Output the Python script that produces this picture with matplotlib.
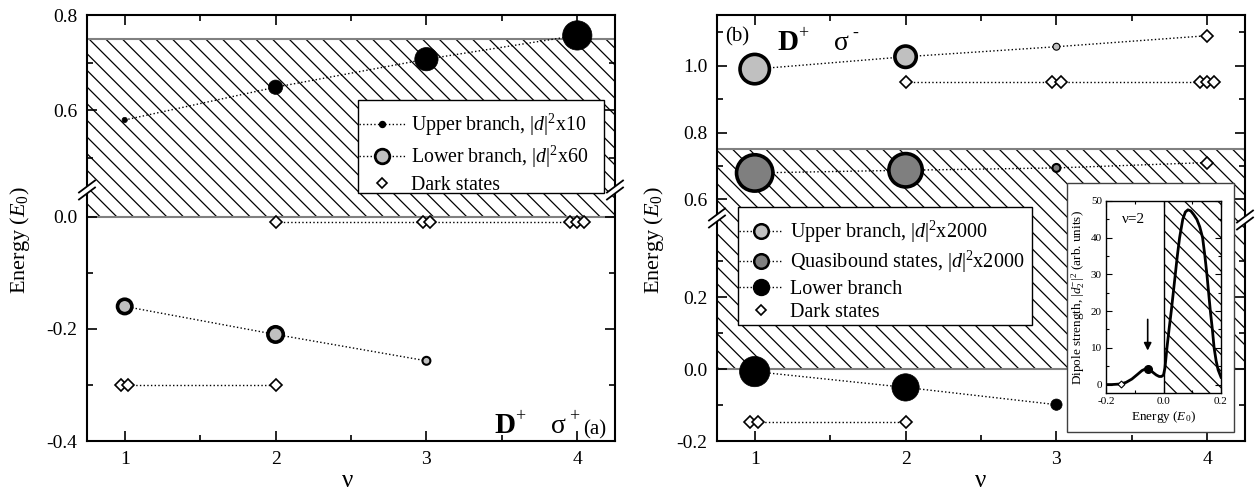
import matplotlib.pyplot as plt
from matplotlib.lines import Line2D
from matplotlib.patches import Rectangle, Polygon
from matplotlib.ticker import MultipleLocator, FixedLocator, FormatStrFormatter

plt.rcParams['font.family'] = 'Liberation Serif'
plt.rcParams['mathtext.fontset'] = 'custom'
plt.rcParams['mathtext.rm'] = 'Liberation Serif'
plt.rcParams['mathtext.it'] = 'Liberation Serif:italic'
plt.rcParams['mathtext.bf'] = 'Liberation Serif:bold'
plt.rcParams['axes.unicode_minus'] = False
plt.rcParams['hatch.linewidth'] = 0.9

##data

nu = [1, 2, 3, 4]
# (a) D+ sigma+ ; sizes = marker diameter (dipole strength scaled)
a_upper_E = [0.579, 0.648, 0.707, 0.757]
a_upper_size = [6, 15, 24, 30]
a_lower_nu = [1, 2, 3]
a_lower_E = [-0.160, -0.210, -0.257]
a_lower_size = [18, 19, 10]
a_dark1_nu = [2, 2.975, 3.025, 3.955, 4.0, 4.045]
a_dark1_E = [-0.010] * 6
a_dark2_nu = [0.975, 1.025, 2.0]
a_dark2_E = [-0.300] * 3

# (b) D+ sigma- ; size 0 = dark state (diamond)
b_upper_E = [0.990, 1.027, 1.057, 1.090]
b_upper_size = [33, 25, 8, 0]
b_quasi_E = [0.679, 0.687, 0.694, 0.710]
b_quasi_size = [40, 37, 10, 0]
b_lower_nu = [1, 2, 3]
b_lower_E = [-0.007, -0.051, -0.099]
b_lower_size = [31, 28, 12]
b_dark1_nu = [2, 2.97, 3.03, 3.955, 4.0, 4.045]
b_dark1_E = [0.952] * 6
b_dark2_nu = [0.97, 1.02, 2.0]
b_dark2_E = [-0.146] * 3

band = (0.0, 0.75)

# y ticks of each axis segment
a_top_ticks = ([0.6, 0.8], [0.5, 0.7])
a_bot_ticks = ([-0.4, -0.2, 0.0], [-0.3, -0.1])
b_top_ticks = ([0.6, 0.8, 1.0], [0.7, 0.9, 1.1])
b_bot_ticks = ([-0.2, 0.0, 0.2], [-0.1, 0.1, 0.3])

# inset: nu=2 dipole strength vs energy
ins_E = [-0.2, -0.18, -0.16, -0.147, -0.13, -0.11, -0.09, -0.075, -0.062, -0.055, -0.045,
         -0.035, -0.025, -0.015, -0.007, 0.0, 0.005, 0.012, 0.02, 0.027, 0.034, 0.041,
         0.048, 0.056, 0.067, 0.076, 0.085, 0.095, 0.105, 0.116, 0.126, 0.136, 0.144,
         0.151, 0.157, 0.163, 0.17, 0.176, 0.183, 0.19, 0.2]
ins_d2 = [0.0, 0.0, 0.1, 0.2, 0.6, 1.5, 2.8, 3.8, 4.3, 4.3, 3.9,
          3.2, 2.6, 2.2, 2.2, 2.6, 4.5, 10, 15.5, 20, 25, 30,
          35, 40, 45, 47, 47.6, 47.3, 46.3, 45, 43, 40, 35,
          30, 25, 20, 15, 10, 6.5, 4, 2]
ins_peak = (-0.055, 4.3)
ins_dark = (-0.147, 0.2)

W, H = 1259, 494
PX = 0.72  # points per pixel at dpi 100
LGRAY = '#c0c0c0'
DGRAY = '#7f7f7f'

fig = plt.figure(figsize=(W/100, H/100), dpi=100)


def fx(x):
    return x / W


def fy(y):
    return 1 - y / H


def add_seg(x0, x1, ytop, ybot, ylim, upper, ticks):
    ax = fig.add_axes([fx(x0), fy(ybot), (x1-x0)/W, (ybot-ytop)/H])
    ax.set_xlim(0.75, 4.25)
    ax.set_ylim(*ylim)
    ax.set_xticks(nu)
    ax.xaxis.set_minor_locator(MultipleLocator(0.5))
    ax.yaxis.set_major_locator(FixedLocator(ticks[0]))
    ax.yaxis.set_minor_locator(FixedLocator(ticks[1]))
    ax.yaxis.set_major_formatter(FormatStrFormatter('%.1f'))
    ax.tick_params(which='both', direction='in', top=upper, bottom=not upper,
                   left=True, right=True, labelsize=14, width=1.2, pad=7)
    ax.tick_params(which='major', length=7)
    ax.tick_params(which='minor', length=4)
    for s in ax.spines.values():
        s.set_linewidth(1.5)
    if upper:
        ax.spines['bottom'].set_visible(False)
        ax.tick_params(labelbottom=False)
    else:
        ax.spines['top'].set_visible(False)
    ax.axhspan(band[0], band[1], facecolor='none', edgecolor='black', hatch='\\\\', lw=0, zorder=0.5)
    ax.axhline(band[0], color='#808080', lw=1.5, zorder=1)
    ax.axhline(band[1], color='#808080', lw=1.5, zorder=1)
    return ax


def circles(ax, x, y, sizes, fc):
    ax.plot(x, y, ':', color='black', lw=1, zorder=2)
    xs = [a for a, s in zip(x, sizes) if s > 0]
    ys = [b for b, s in zip(y, sizes) if s > 0]
    ss = [s for s in sizes if s > 0]
    ew = [2.6 if s > 14 else (1.5 if s > 9 else 0.8) for s in ss]
    if fc == 'black':
        ew = [0.5] * len(ss)
    ax.scatter(xs, ys, s=[max(s*PX - e, 1)**2 for s, e in zip(ss, ew)], c=fc,
               edgecolors='black', linewidths=ew, zorder=3)
    xd = [a for a, s in zip(x, sizes) if s == 0]
    yd = [b for b, s in zip(y, sizes) if s == 0]
    ax.plot(xd, yd, 'D', ms=6, mfc='white', mec='black', mew=1.2, zorder=3)


def dark(ax, x, y):
    ax.plot(x, y, ':', color='black', lw=1, marker='D', ms=6, mfc='white', mec='black', mew=1.2, zorder=3)


def draw_a(ax):
    circles(ax, nu, a_upper_E, a_upper_size, 'black')
    circles(ax, a_lower_nu, a_lower_E, a_lower_size, LGRAY)
    dark(ax, a_dark1_nu, a_dark1_E)
    dark(ax, a_dark2_nu, a_dark2_E)


def draw_b(ax):
    circles(ax, nu, b_upper_E, b_upper_size, LGRAY)
    circles(ax, nu, b_quasi_E, b_quasi_size, DGRAY)
    circles(ax, b_lower_nu, b_lower_E, b_lower_size, 'black')
    dark(ax, b_dark1_nu, b_dark1_E)
    dark(ax, b_dark2_nu, b_dark2_E)


def brk(xc, yc):
    dx, dy, g = 8, 6, 3.5
    pts = [(xc-dx, yc-g+dy), (xc+dx, yc-g-dy), (xc+dx, yc+g-dy), (xc-dx, yc+g+dy)]
    fig.add_artist(Polygon([(fx(a), fy(b)) for a, b in pts], closed=True, transform=fig.transFigure,
                           facecolor='white', edgecolor='none', zorder=6))
    for s in (-g, g):
        fig.add_artist(Line2D([fx(xc-dx), fx(xc+dx)], [fy(yc+s+dy), fy(yc+s-dy)],
                              transform=fig.transFigure, color='black', lw=1.3, zorder=7))


def tag(x, y, sup):
    fig.text(fx(x), fy(y), r'$\mathbf{D}$', fontsize=21, va='baseline')
    fig.text(fx(x+21), fy(y-12), '+', fontsize=13, va='baseline')
    fig.text(fx(x+57), fy(y), 'σ', fontsize=20, va='baseline')
    fig.text(fx(x+75), fy(y-12), sup, fontsize=13, va='baseline')


##panel (a)
a_top = add_seg(87, 615, 15, 190, (0.4316, 0.8), True, a_top_ticks)
a_bot = add_seg(87, 615, 190, 441, (-0.4, 0.0476), False, a_bot_ticks)
draw_a(a_top)
draw_a(a_bot)
brk(87, 190)
brk(615, 190)

##panel (b)
b_top = add_seg(717, 1245, 15, 218, (0.544, 1.152), True, b_top_ticks)
b_bot = add_seg(717, 1245, 218, 441, (-0.2, 0.42), False, b_bot_ticks)
draw_b(b_top)
draw_b(b_bot)
brk(717, 218)
brk(1245, 220)

##labels and texts
for xc in (20, 654):
    fig.text(fx(xc), fy(240), r'Energy ($E_0$)', rotation=90, ha='center', va='center', fontsize=16)
for xc in (348, 981):
    fig.text(fx(xc), fy(481), 'ν', ha='center', va='center', fontsize=18)

tag(494, 433, '+')
fig.text(fx(583), fy(434), '(a)', fontsize=15, va='baseline')
fig.text(fx(725), fy(41), '(b)', fontsize=15, va='baseline')
tag(777, 50, '-')

##legends
fig.add_artist(Rectangle((fx(358), fy(193)), (604-358)/W, (193-100)/H, transform=fig.transFigure,
                         facecolor='white', edgecolor='black', lw=1, zorder=4))
ha = [Line2D([], [], ls=':', color='k', lw=1, marker='o', ms=4.3, mfc='k', mec='k'),
      Line2D([], [], ls=':', color='k', lw=1, marker='o', ms=10.5, mfc=LGRAY, mec='k', mew=2),
      Line2D([], [], ls='none', marker='D', ms=5.5, mfc='white', mec='k', mew=1.2)]
la = [r'Upper branch, $|d|^2$x10', r'Lower branch, $|d|^2$x60', 'Dark states']
fig.legend(ha, la, loc='upper left', bbox_to_anchor=(fx(359), fy(112)), frameon=False, fontsize=14.3,
           borderpad=0, borderaxespad=0, handlelength=2.3, handletextpad=0.3, labelspacing=0.3)

fig.add_artist(Rectangle((fx(738), fy(325)), (1032-738)/W, (325-207)/H, transform=fig.transFigure,
                         facecolor='white', edgecolor='black', lw=1, zorder=4))
hb = [Line2D([], [], ls=':', color='k', lw=1, marker='o', ms=10.5, mfc=LGRAY, mec='k', mew=1.8),
      Line2D([], [], ls=':', color='k', lw=1, marker='o', ms=10.5, mfc=DGRAY, mec='k', mew=1.8),
      Line2D([], [], ls=':', color='k', lw=1, marker='o', ms=11.5, mfc='k', mec='k'),
      Line2D([], [], ls='none', marker='D', ms=5.5, mfc='white', mec='k', mew=1.2)]
lb = [r'Upper branch, $|d|^2$x2000', r'Quasibound states, $|d|^2$x2000', 'Lower branch', 'Dark states']
fig.legend(hb, lb, loc='upper left', bbox_to_anchor=(fx(739), fy(219)), frameon=False, fontsize=14.5,
           borderpad=0, borderaxespad=0, handlelength=2.2, handletextpad=0.35, labelspacing=0.2)

##inset
fig.add_artist(Rectangle((fx(1067), fy(432)), (1234-1067)/W, (432-183)/H, transform=fig.transFigure,
                         facecolor='white', edgecolor='#404040', lw=1, zorder=4.5))
ins = fig.add_axes([fx(1106), fy(393), (1221-1106)/W, (393-201)/H])
ins.set_zorder(5)
ins.set_xlim(-0.2, 0.2)
ins.set_ylim(-2.3, 50)
ins.set_xticks([-0.2, 0.0, 0.2])
ins.xaxis.set_minor_locator(MultipleLocator(0.1))
ins.yaxis.set_major_locator(MultipleLocator(10))
ins.yaxis.set_minor_locator(MultipleLocator(5))
ins.xaxis.set_major_formatter(FormatStrFormatter('%.1f'))
ins.tick_params(which='both', direction='in', top=True, right=True, labelsize=8, width=0.8, pad=3)
ins.tick_params(which='major', length=4)
ins.tick_params(which='minor', length=2)
for s in ins.spines.values():
    s.set_linewidth(1)
ins.axvspan(0.0, 0.2, facecolor='none', edgecolor='black', hatch='\\\\', lw=0, zorder=0.5)
ins.axvline(0.0, color='black', lw=1, zorder=1)
ins.plot(ins_E, ins_d2, color='black', lw=2, zorder=2)
ins.plot(*ins_peak, 'o', ms=5.5, color='black', zorder=3)
ins.plot(*ins_dark, 'D', ms=3.5, mfc='white', mec='black', mew=0.8, zorder=3)
ins.annotate('', xy=(ins_peak[0], 8.5), xytext=(ins_peak[0], 18.5),
             arrowprops=dict(arrowstyle='-|>', color='black', lw=1.2, mutation_scale=11))
ins.text(-0.145, 44.9, 'ν=2', fontsize=11, va='center')
ins.set_xlabel(r'Energy ($E_0$)', fontsize=9.5, labelpad=2)
ins.set_ylabel(r'Dipole strength, $|d_2^{-}|^2$ (arb. units)', fontsize=9.5, labelpad=3)

fig.savefig('out.png', dpi=100)
